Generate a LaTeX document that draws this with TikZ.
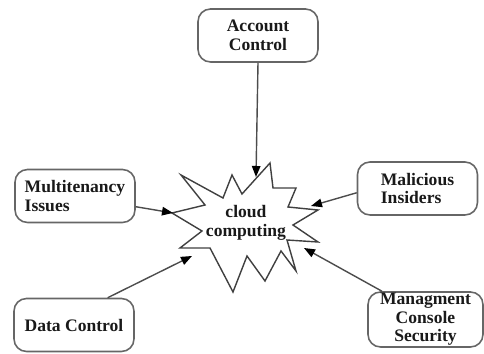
\documentclass[tikz,border=0pt]{standalone}
\usepackage{fontspec}
\setmainfont{Liberation Serif}
\usetikzlibrary{arrows.meta}

\begin{document}
\begin{tikzpicture}[
    x=0.02cm, y=-0.02cm,
    every node/.style={font=\bfseries\fontsize{10}{10.5}\selectfont, text=black!90},
    box/.style={draw=black!60, line width=0.9pt, rounded corners=2.5mm, minimum width=2.4cm, minimum height=1.06cm, inner sep=1pt},
    arr/.style={-{Triangle[length=2.2mm,width=1.7mm,color=black]}, draw=black!70, line width=0.8pt},
    burst/.style={draw=black!75, line width=0.8pt, fill=white}
]
    \useasboundingbox (0,0) rectangle (484,354);
    % the star round the centre
    \draw[burst] (181,175) -- (223,198) -- (232,175) -- (242,194) -- (270,163)
        -- (273,188) -- (296,188) -- (288,207) -- (318,210) -- (293,225)
        -- (318,242) -- (287,240) -- (296,271) -- (281,251) -- (265,281)
        -- (247,256) -- (233,292) -- (210,248) -- (180,248) -- (202,231)
        -- (172,213) -- (205,205) -- cycle;
    \node[align=center] (cloud) at (246,223) {cloud\\computing};

    \node[box, align=center] (acc) at (258,35.5) {Account\\Control};
    \node[box, align=left] (mul) at (75,196) {Multitenancy\\Issues};
    \node[box, align=left] (mal) at (417.5,188.5) {Malicious\\Insiders};
    \node[box] (dat) at (74,325) {Data Control};
    \node[box, align=center, minimum width=2.3cm, minimum height=1.1cm, inner sep=0pt] (man) at (425.5,319.5) {Managment\\Console\\Security};

    \coordinate (tipacc) at (256,177);
    \coordinate (tipmul) at (173,213);
    \coordinate (tipmal) at (311,206);
    \coordinate (tipdat) at (192,256);
    \coordinate (tipman) at (304,248);

    \draw[arr] (acc.south) -- (tipacc);
    \draw[arr] (mul.-10) -- (tipmul);
    \draw[arr] (mal.184) -- (tipmal);
    \draw[arr] (dat.39) -- (tipdat);
    \draw[arr] (man.147) -- (tipman);
\end{tikzpicture}
\end{document}
